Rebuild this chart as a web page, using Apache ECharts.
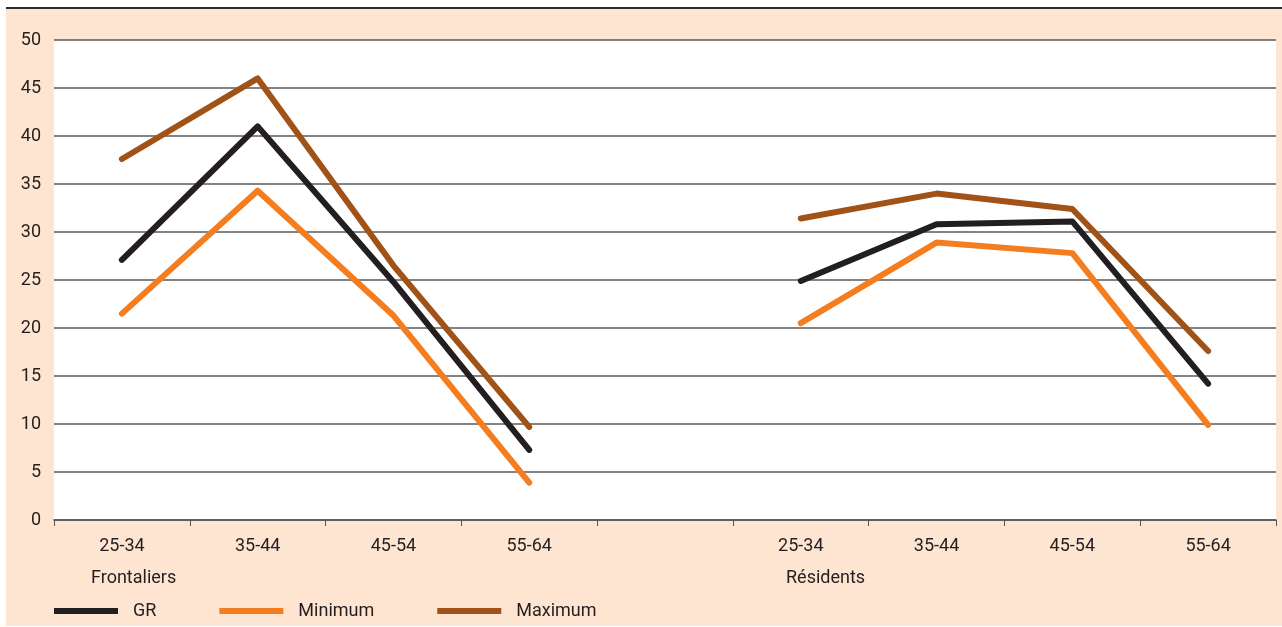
<!DOCTYPE html>
<html>
<head>
<meta charset="utf-8">
<script src="https://cdn.jsdelivr.net/npm/echarts@6/dist/echarts.min.js"></script>
<style>
  html, body { margin: 0; padding: 0; background: #ffffff; }
  #panel { position: absolute; left: 6px; top: 7px; width: 1276px; height: 619px; background: #fde5d2; border-top: 2px solid #2e2b2b; box-sizing: border-box; }
  #chart { position: absolute; left: 0; top: 0; width: 1282px; height: 627px; }
</style>
</head>
<body>
<div id="panel"></div>
<div id="chart"></div>
<script>
// Categories (5th slot is the empty gap between the two groups)
const categories = ['25-34', '35-44', '45-54', '55-64', '', '25-34', '35-44', '45-54', '55-64'];
const groups = ['Frontaliers', 'Résidents'];
const seriesNames = ['GR', 'Minimum', 'Maximum'];

// Frontaliers
const grFront  = [27.1, 41.0, 24.8, 7.3];
const minFront = [21.5, 34.3, 21.3, 3.9];
const maxFront = [37.6, 46.0, 26.5, 9.7];
// Résidents
const grRes  = [24.9, 30.8, 31.1, 14.2];
const minRes = [20.5, 28.9, 27.8, 9.9];
const maxRes = [31.4, 34.0, 32.4, 17.6];

const yTicks = { min: 0, max: 50, interval: 5 };

function join(a, b) { return a.concat(['-'], b); }

const colors = ['#231f20', '#f47d20', '#a05217'];
const FONT = 'Roboto';
const TXT = '#231f20';

const chart = echarts.init(document.getElementById('chart'), null, { renderer: 'canvas' });

const dataSets = [join(grFront, grRes), join(minFront, minRes), join(maxFront, maxRes)];
const order = [2, 0, 1]; // draw order: Maximum, GR, Minimum (legend order stays GR, Min, Max)

chart.setOption({
  backgroundColor: 'transparent',
  animation: false,
  color: colors,
  grid: { left: 54, right: 6, top: 40, bottom: 107, show: true, backgroundColor: '#ffffff', borderWidth: 0 },
  legend: {
    data: seriesNames,
    left: 54, top: 601, padding: 0,
    icon: 'rect', itemWidth: 64, itemHeight: 6, itemGap: 63,
    textStyle: { fontFamily: FONT, fontSize: 18, color: TXT, lineHeight: 20, padding: [0, 0, 0, 10] }
  },
  xAxis: {
    type: 'category',
    data: categories,
    boundaryGap: true,
    axisLine: { lineStyle: { color: '#555555', width: 1.5 } },
    axisTick: { show: true, interval: 0, length: 6, lineStyle: { color: '#555555' } },
    axisLabel: { interval: 0, margin: 17, fontFamily: FONT, fontSize: 18, color: TXT }
  },
  yAxis: {
    type: 'value',
    min: yTicks.min, max: yTicks.max, interval: yTicks.interval,
    axisLine: { show: false },
    axisTick: { show: false },
    axisLabel: { margin: 13, fontFamily: FONT, fontSize: 18, color: TXT },
    splitLine: { lineStyle: { color: '#5a5a5a', width: 1.5 } }
  },
  graphic: [
    { type: 'text', left: 91, top: 569, style: { text: groups[0], font: '18px ' + FONT, fill: TXT } },
    { type: 'text', left: 786, top: 569, style: { text: groups[1], font: '18px ' + FONT, fill: TXT } }
  ],
  series: order.map(i => ({
    name: seriesNames[i],
    type: 'line',
    data: dataSets[i],
    showSymbol: false,
    symbol: 'none',
    connectNulls: false,
    itemStyle: { color: colors[i] },
    lineStyle: { color: colors[i], width: 6, cap: 'round', join: 'round' },
    emphasis: { disabled: true }
  }))
});
</script>
</body>
</html>
